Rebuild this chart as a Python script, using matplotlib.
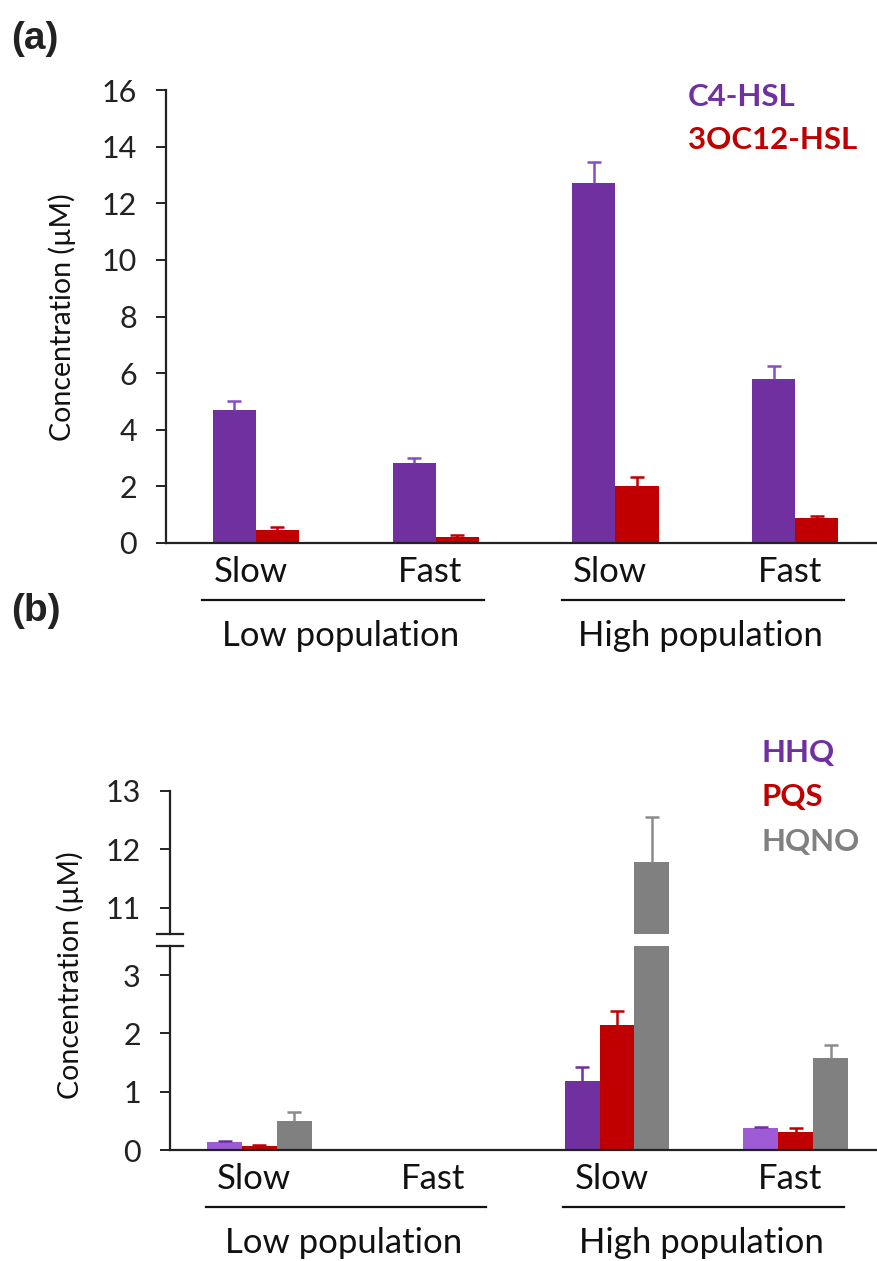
import matplotlib
matplotlib.use('Agg')
import matplotlib.pyplot as plt
import matplotlib.transforms as mtransforms
import numpy as np

plt.rcParams['font.family'] = ['Lato', 'DejaVu Sans']

# data
groups = ['Low population', 'High population']
speeds = ['Slow', 'Fast', 'Slow', 'Fast']

# (a) AHLs
c4_hsl = [4.70, 2.83, 12.72, 5.80]
c4_hsl_err = [0.32, 0.17, 0.74, 0.45]
oc12_hsl = [0.46, 0.21, 2.01, 0.88]
oc12_hsl_err = [0.11, 0.07, 0.32, 0.07]

# (b) AQs
hhq = [0.13, 0.0, 1.18, 0.37]
hhq_err = [0.02, 0.0, 0.24, 0.03]
pqs = [0.07, 0.0, 2.15, 0.31]
pqs_err = [0.02, 0.0, 0.23, 0.06]
hqno = [0.50, 0.0, 11.79, 1.57]
hqno_err = [0.16, 0.0, 0.77, 0.23]

PURPLE = '#7030A0'
PURPLE_LIGHT = '#9D5CD6'
RED = '#C00000'
GRAY = '#808080'
hhq_colors = [PURPLE_LIGHT, PURPLE_LIGHT, PURPLE, PURPLE_LIGHT]

x = np.arange(len(speeds))

fig = plt.figure(figsize=(8.78, 12.61), dpi=100)


def style_axis(ax, ymin, ymax, ticks):
    ax.set_ylim(ymin, ymax)
    ax.set_xlim(-0.5, 3.46)
    ax.set_yticks(ticks)
    for s in ['top', 'right']:
        ax.spines[s].set_visible(False)
    for s in ['left', 'bottom']:
        ax.spines[s].set_linewidth(1.6)
        ax.spines[s].set_color('#222222')
    ax.tick_params(axis='y', direction='out', length=7, width=1.4, pad=14,
                   labelsize=22, colors='#222222')
    ax.tick_params(axis='x', length=0, labelbottom=False)


def bars_with_err(ax, pos, vals, errs, width, color, ecolor):
    ax.bar(pos, vals, width, color=color, edgecolor='none')
    vals = np.array(vals)
    errs = np.array(errs)
    m = vals > 0
    eb = ax.errorbar(np.array(pos)[m], vals[m], yerr=[np.zeros(m.sum()), errs[m]],
                     fmt='none', ecolor=ecolor, elinewidth=1.8, capsize=5,
                     capthick=1.8)
    # only the upper cap, like the original
    eb[1][0].set_visible(False)


def category_labels(ax):
    base = mtransforms.blended_transform_factory(ax.transData, ax.transAxes)
    for xi, s in zip(x, speeds):
        ax.annotate(s, xy=(xi - 0.03, 0), xycoords=base, xytext=(0, -21),
                    textcoords='offset points', ha='center', va='center',
                    fontsize=25, color='#111111', annotation_clip=False)
    line_tr = mtransforms.offset_copy(base, fig=fig, y=-41, units='points')
    for g, name in enumerate(groups):
        x0, x1 = x[2 * g], x[2 * g + 1]
        ax.plot([x0 - 0.30, x1 + 0.27], [0, 0], transform=line_tr,
                color='#111111', lw=1.6, clip_on=False)
        ax.annotate(name, xy=((x0 + x1) / 2 - 0.03, 0), xycoords=base,
                    xytext=(0, -67), textcoords='offset points', ha='center',
                    va='center', fontsize=25, color='#111111', annotation_clip=False)


# ---- panel (a)
ax_a = fig.add_axes([166 / 878, 1 - 543 / 1261, 712 / 878, 453 / 1261])
wa = 0.24
bars_with_err(ax_a, x - wa / 2, c4_hsl, c4_hsl_err, wa, PURPLE, '#8A4CC2')
bars_with_err(ax_a, x + wa / 2, oc12_hsl, oc12_hsl_err, wa, RED, RED)
style_axis(ax_a, 0, 16, np.arange(0, 17, 2))
category_labels(ax_a)
fig.text(688 / 878, 1 - 97 / 1261, 'C4-HSL', color=PURPLE, fontsize=22.5,
         fontweight='bold', va='center')
fig.text(688 / 878, 1 - 140 / 1261, '3OC12-HSL', color=RED, fontsize=22.5,
         fontweight='bold', va='center')
fig.text(62 / 878, 1 - 317 / 1261, 'Concentration (µM)', rotation=90,
         ha='center', va='center', fontsize=20.5, color='#111111')
fig.text(11 / 878, 1 - 39 / 1261, '(a)', fontsize=28, fontweight='bold',
         family='Liberation Sans', va='center', color='#222222')

# ---- panel (b), broken y axis
left_b = 170 / 878
ax_lo = fig.add_axes([left_b, 1 - 1150 / 1261, 1 - left_b, 204 / 1261])
ax_hi = fig.add_axes([left_b, 1 - 934 / 1261, 1 - left_b, 143 / 1261])
wb = 0.195
for ax in (ax_lo, ax_hi):
    bars_with_err(ax, x - wb, hhq, hhq_err, wb, hhq_colors, PURPLE)
    bars_with_err(ax, x, pqs, pqs_err, wb, RED, RED)
    bars_with_err(ax, x + wb, hqno, hqno_err, wb, GRAY, '#8C8C8C')
style_axis(ax_lo, 0, 3.5, [0, 1, 2, 3])
style_axis(ax_hi, 10.55, 13, [11, 12, 13])
ax_hi.spines['bottom'].set_visible(False)
category_labels(ax_lo)

# break marks
ax_hi.plot([-0.018, 0.018], [0, 0], transform=ax_hi.transAxes, color='#222222',
           lw=1.6, clip_on=False)
ax_lo.plot([-0.018, 0.018], [1, 1], transform=ax_lo.transAxes, color='#222222',
           lw=1.6, clip_on=False)

fig.text(762 / 878, 1 - 753 / 1261, 'HHQ', color=PURPLE, fontsize=22.5,
         fontweight='bold', va='center')
fig.text(762 / 878, 1 - 797 / 1261, 'PQS', color=RED, fontsize=22.5,
         fontweight='bold', va='center')
fig.text(762 / 878, 1 - 842 / 1261, 'HQNO', color=GRAY, fontsize=22.5,
         fontweight='bold', va='center')
fig.text(70 / 878, 1 - 975 / 1261, 'Concentration (µM)', rotation=90,
         ha='center', va='center', fontsize=20.5, color='#111111')
fig.text(11 / 878, 1 - 611 / 1261, '(b)', fontsize=28, fontweight='bold',
         family='Liberation Sans', va='center', color='#222222')

fig.savefig('out.png', dpi=100, facecolor='white')
